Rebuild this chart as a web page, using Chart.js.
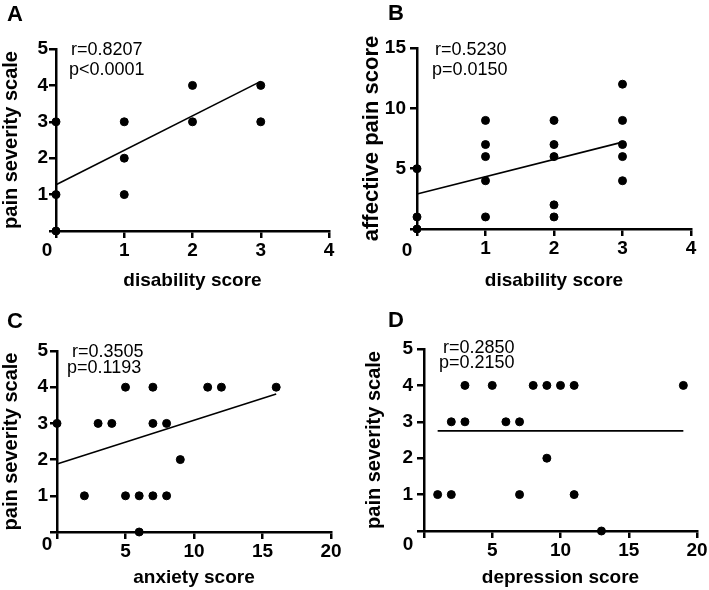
<!DOCTYPE html>
<html>
<head>
<meta charset="utf-8">
<script src="https://cdn.jsdelivr.net/npm/chart.js@4.4.1/dist/chart.umd.min.js"></script>
<style>
  body { margin: 0; background: #fff; }
  #wrap { position: relative; width: 709px; height: 590px; }
  canvas { position: absolute; }
</style>
</head>
<body>
<div id="wrap">
  <canvas id="chartA" width="354" height="295" style="left:0;top:0"></canvas>
  <canvas id="chartB" width="355" height="295" style="left:354px;top:0"></canvas>
  <canvas id="chartC" width="354" height="295" style="left:0;top:295px"></canvas>
  <canvas id="chartD" width="355" height="295" style="left:354px;top:295px"></canvas>
</div>
<script>
// panel A: disability vs pain severity
const aDisability = [0, 0, 0, 1, 1, 1, 2, 2, 3, 3];
const aPain = [3, 1, 0, 3, 2, 1, 4, 3, 4, 3];
const aFitX = [0, 3];
const aFitY = [1.27, 4.11];

// panel B: disability vs affective pain
const bDisability = [0, 0, 0, 1, 1, 1, 1, 1, 2, 2, 2, 2, 2, 3, 3, 3, 3, 3];
const bAffective = [5, 1, 0, 9, 7, 6, 4, 1, 9, 7, 6, 2, 1, 12, 9, 7, 6, 4];
const bFitX = [0, 3];
const bFitY = [2.9, 7.2];

// panel C: anxiety vs pain severity
const cAnxiety = [0, 2, 3, 4, 5, 5, 6, 6, 7, 7, 7, 8, 8, 9, 11, 12, 16];
const cPain = [3, 1, 3, 3, 4, 1, 1, 0, 4, 3, 1, 3, 1, 2, 4, 4, 4];
const cFitX = [0, 16];
const cFitY = [1.88, 3.81];

// panel D: depression vs pain severity
const dDepression = [1, 2, 2, 3, 3, 5, 6, 7, 7, 8, 9, 9, 10, 11, 11, 13, 19];
const dPain = [1, 1, 3, 3, 4, 4, 3, 3, 1, 4, 4, 2, 4, 4, 1, 0, 4];
const dFitX = [1, 19];
const dFitY = [2.75, 2.75];

// ticks
const painTicks = [0, 1, 2, 3, 4, 5];
const affectiveTicks = [0, 5, 10, 15];
const disabilityTicks = [0, 1, 2, 3, 4];
const scoreTicks = [0, 5, 10, 15, 20];

const FONT = "'Liberation Sans', Arial, sans-serif";

const toPoints = (xs, ys) => xs.map((x, i) => ({ x: x, y: ys[i] }));

const panelText = {
  id: "panelText",
  afterDraw(chart, args, o) {
    const ctx = chart.ctx;
    ctx.save();
    ctx.fillStyle = "#000";
    ctx.textBaseline = "alphabetic";
    ctx.textAlign = "left";
    ctx.font = "bold 22px " + FONT;
    ctx.fillText(o.letter, o.letterX, o.letterY);
    ctx.font = "18px " + FONT;
    ctx.fillText(o.r, o.rX, o.rY);
    ctx.fillText(o.p, o.pX, o.pY);
    // shared origin label
    ctx.font = "bold 19px " + FONT;
    ctx.textAlign = "center";
    ctx.textBaseline = "middle";
    ctx.fillText("0", chart.scales.x.getPixelForValue(0) - o.zeroDx, o.zeroY);
    ctx.restore();
  }
};

function makeChart(id, cfg) {
  const canvas = document.getElementById(id);
  const W = canvas.width, H = canvas.height;
  const area = cfg.area;
  const tickFont = { family: FONT, size: 19, weight: "bold" };
  const axisGrid = { drawOnChartArea: false, drawTicks: true, tickLength: 7, color: "#000", lineWidth: 2.5 };
  const axisBorder = { display: true, color: "#000", width: 2.5 };

  new Chart(canvas, {
    type: "scatter",
    data: {
      datasets: [
        {
          data: toPoints(cfg.xs, cfg.ys),
          backgroundColor: "#000",
          borderColor: "#000",
          pointRadius: 4,
          pointHoverRadius: 4,
          clip: false
        },
        {
          data: toPoints(cfg.fitX, cfg.fitY),
          showLine: true,
          borderColor: "#000",
          borderWidth: 1.6,
          pointRadius: 0,
          clip: false
        }
      ]
    },
    options: {
      responsive: false,
      animation: false,
      layout: { padding: { left: 0, bottom: 0, top: area.top, right: W - area.right } },
      plugins: {
        legend: { display: false },
        tooltip: { enabled: false },
        panelText: cfg.text
      },
      scales: {
        x: {
          type: "linear",
          min: cfg.xTicks[0],
          max: cfg.xTicks[cfg.xTicks.length - 1],
          afterBuildTicks: (s) => { s.ticks = cfg.xTicks.map(v => ({ value: v })); },
          afterFit: (s) => { s.height = H - area.bottom; },
          ticks: {
            font: tickFont, color: "#000", padding: 1, maxRotation: 0,
            callback: (v) => (v === 0 ? "" : v)
          },
          grid: axisGrid,
          border: axisBorder,
          title: {
            display: true, text: cfg.xTitle, color: "#000",
            font: { family: FONT, size: 19, weight: "bold", lineHeight: 1.2 },
            padding: { top: 0, bottom: cfg.xTitlePad }
          }
        },
        y: {
          type: "linear",
          min: cfg.yTicks[0],
          max: cfg.yTicks[cfg.yTicks.length - 1],
          afterBuildTicks: (s) => { s.ticks = cfg.yTicks.map(v => ({ value: v })); },
          afterFit: (s) => { s.width = area.left; },
          ticks: {
            font: tickFont, color: "#000", padding: cfg.yTickPad,
            callback: (v) => (v === 0 ? "" : v)
          },
          grid: axisGrid,
          border: axisBorder,
          title: {
            display: true, text: cfg.yTitle, color: "#000",
            font: { family: FONT, size: cfg.yTitleSize, weight: "bold", lineHeight: 1.1 },
            padding: { top: cfg.yTitlePad, bottom: 0 }
          }
        }
      }
    },
    plugins: [panelText]
  });
}

makeChart("chartA", {
  xs: aDisability, ys: aPain, fitX: aFitX, fitY: aFitY,
  xTicks: disabilityTicks, yTicks: painTicks,
  xTitle: "disability score", yTitle: "pain severity scale",
  area: { left: 56, right: 329, top: 49, bottom: 231 },
  yTickPad: 1, yTitleSize: 20, yTitlePad: 0, xTitlePad: 3,
  text: { letter: "A", letterX: 7, letterY: 21, r: "r=0.8207", rX: 71, rY: 55, p: "p<0.0001", pX: 69, pY: 75, zeroDx: 9, zeroY: 251 }
});

makeChart("chartB", {
  xs: bDisability, ys: bAffective, fitX: bFitX, fitY: bFitY,
  xTicks: disabilityTicks, yTicks: affectiveTicks,
  xTitle: "disability score", yTitle: "affective pain score",
  area: { left: 63, right: 337, top: 48, bottom: 229 },
  yTickPad: 4, yTitleSize: 22, yTitlePad: 6, xTitlePad: 3,
  text: { letter: "B", letterX: 34, letterY: 20, r: "r=0.5230", rX: 81, rY: 55, p: "p=0.0150", pX: 78, pY: 75, zeroDx: 10, zeroY: 251 }
});

makeChart("chartC", {
  xs: cAnxiety, ys: cPain, fitX: cFitX, fitY: cFitY,
  xTicks: scoreTicks, yTicks: painTicks,
  xTitle: "anxiety score", yTitle: "pain severity scale",
  area: { left: 57, right: 331, top: 56, bottom: 237 },
  yTickPad: 2, yTitleSize: 20, yTitlePad: 0, xTitlePad: 1,
  text: { letter: "C", letterX: 7, letterY: 33, r: "r=0.3505", rX: 72, rY: 62, p: "p=0.1193", pX: 67, pY: 78, zeroDx: 10, zeroY: 250 }
});

makeChart("chartD", {
  xs: dDepression, ys: dPain, fitX: dFitX, fitY: dFitY,
  xTicks: scoreTicks, yTicks: painTicks,
  xTitle: "depression score", yTitle: "pain severity scale",
  area: { left: 70, right: 343, top: 54, bottom: 236 },
  yTickPad: 4, yTitleSize: 20, yTitlePad: 9, xTitlePad: 1,
  text: { letter: "D", letterX: 34, letterY: 32, r: "r=0.2850", rX: 89, rY: 58, p: "p=0.2150", pX: 85, pY: 73, zeroDx: 16, zeroY: 250 }
});
</script>
</body>
</html>
